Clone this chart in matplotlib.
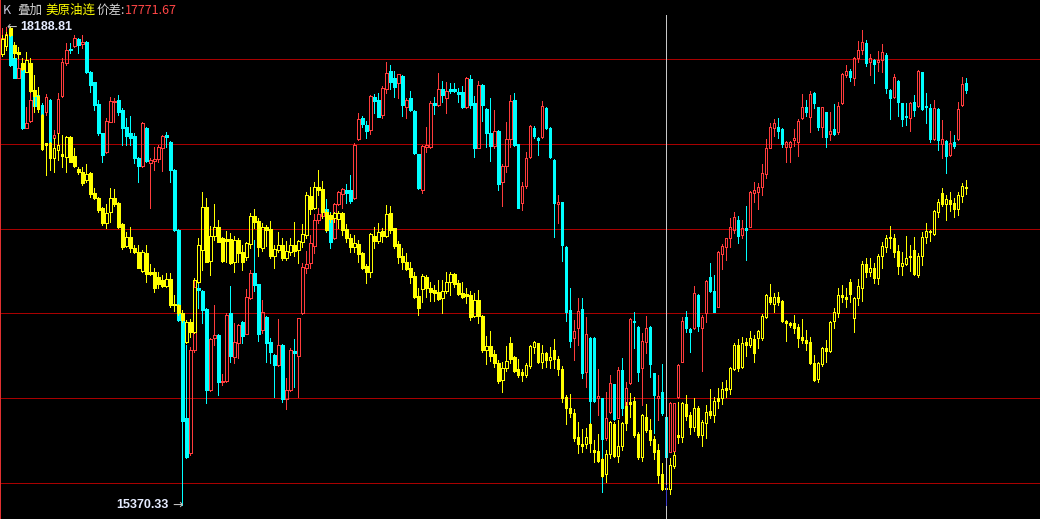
import numpy as np
import matplotlib
matplotlib.use('Agg')
import matplotlib.pyplot as plt

# main contract candles (open / high / low / close), one per bar
main_open = [18027, 18078, 18171, 18004, 17890, 17974, 17595, 17634, 17817, 17788,
             17728, 17685, 17758, 17532, 17561, 17783, 17974, 18057, 18078, 18117,
             18086, 18102, 17921, 17862, 17732, 17561, 17449, 17630, 17744, 17758,
             17699, 17601, 17561, 17548, 17418, 17371, 17595, 17385, 17398, 17410,
             17473, 17552, 17512, 17345, 16992, 16471, 15881, 15675, 16284, 16652,
             16632, 16526, 16048, 16357, 16373, 16097, 16103, 16501, 16245, 16328,
             16451, 16381, 16589, 16736, 16671, 16403, 16479, 16330, 16255, 16196,
             16314, 15995, 16048, 16279, 16251, 16501, 16766, 16795, 16899, 17051,
             17077, 17116, 17081, 16943, 17143, 17202, 17227, 17227, 17178, 17528,
             17654, 17610, 17581, 17778, 17758, 17670, 17823, 17929, 17886, 17856,
             17899, 17719, 17768, 17693, 17438, 17227, 17483, 17483, 17738, 17728,
             17823, 17768, 17823, 17821, 17807, 17803, 17717, 17882, 17738, 17477,
             17846, 17705, 17561, 17489, 17575, 17277, 17371, 17528, 17758, 17497,
             17153, 17253, 17424, 17595, 17536, 17542, 17713, 17595, 17404, 17147,
             17155, 16893, 16520, 16353, 16412, 16526, 16157, 16357, 16357, 16003,
             15999, 15764, 15917, 16081, 15885, 16166, 15960, 16087, 16455, 16420,
             16180, 16330, 16420, 16147, 16003, 16034, 15891, 15685, 15689, 16009,
             16215, 16481, 16408, 16412, 16609, 16416, 16501, 16714, 16632, 16540,
             16848, 16893, 16943, 16992, 17051, 16962, 17001, 17011, 17208, 17214,
             17247, 17320, 17477, 17591, 17601, 17587, 17483, 17483, 17524, 17512,
             17650, 17715, 17660, 17797, 17715, 17601, 17685, 17556, 17587, 17571,
             17738, 17905, 17929, 17890, 18008, 18055, 18094, 17984, 17994, 17984,
             17994, 18023, 17817, 17778, 17870, 17738, 17666, 17650, 17744, 17725,
             17921, 17725, 17713, 17528, 17705, 17499, 17516, 17434, 17512, 17528,
             17728, 17856]
main_high = [18180, 18188.81, 18175, 18008, 18063, 17980, 17719, 17807, 17905, 17797,
             17738, 17792, 17762, 17581, 17797, 18004, 18092, 18092, 18141, 18125,
             18141, 18106, 17929, 17866, 17758, 17565, 17654, 17778, 17768, 17788,
             17709, 17650, 17666, 17561, 17422, 17630, 17601, 17414, 17483, 17493,
             17552, 17571, 17516, 17350, 16996, 16475, 16314, 16304, 16697, 16687,
             16636, 16530, 16353, 16549, 16377, 16140, 16501, 16663, 16441, 16436,
             16455, 16644, 16756, 16933, 16675, 16579, 16483, 16357, 16259, 16467,
             16318, 16117, 16294, 16349, 16475, 16795, 16868, 16962, 17085, 17120,
             17139, 17174, 17100, 17149, 17222, 17241, 17261, 17316, 17503, 17679,
             17666, 17634, 17788, 17792, 17797, 17842, 17980, 17964, 17929, 17913,
             17903, 17768, 17811, 17697, 17442, 17493, 17601, 17752, 17778, 17915,
             17870, 17866, 17856, 17856, 17831, 17842, 17895, 17905, 17782, 17870,
             17850, 17709, 17768, 17699, 17579, 17379, 17630, 17788, 17797, 17501,
             17277, 17453, 17610, 17605, 17542, 17752, 17717, 17599, 17408, 17198,
             17159, 16897, 16648, 16461, 16589, 16589, 16481, 16361, 16361, 16172,
             16003, 16038, 16137, 16085, 16186, 16239, 16097, 16471, 16510, 16424,
             16383, 16487, 16424, 16151, 16137, 16204, 15895, 15980, 15974, 16200,
             16481, 16514, 16412, 16663, 16613, 16491, 16697, 16795, 16726, 16868,
             16907, 16947, 17062, 17100, 17077, 17051, 17133, 17222, 17273, 17267,
             17379, 17528, 17620, 17646, 17650, 17591, 17516, 17516, 17587, 17646,
             17793, 17758, 17811, 17807, 17719, 17719, 17689, 17689, 17732, 17744,
             17915, 17964, 17941, 18013, 18106, 18171, 18111, 18027, 17998, 18047,
             18086, 18033, 17821, 17909, 17874, 17742, 17738, 17744, 17788, 17935,
             17925, 17797, 17732, 17758, 17709, 17640, 17520, 17575, 17552, 17744,
             17895, 17886]
main_low = [18023, 18063, 17960, 17886, 17886, 17585, 17591, 17630, 17689, 17689,
            17571, 17670, 17505, 17522, 17552, 17778, 17964, 18033, 18072, 18033,
            18063, 17917, 17807, 17699, 17552, 17394, 17443, 17626, 17630, 17670,
            17493, 17493, 17493, 17385, 17277, 17365, 17394, 17123, 17345, 17394,
            17339, 17483, 17277, 16988, 16457, 15370.33, 15645, 15665, 16275, 16530,
            16441, 15970, 16044, 16314, 16019, 16080, 16097, 16215, 16206, 16239,
            16324, 16377, 16585, 16632, 16338, 16383, 16215, 16206, 16009, 16192,
            15980, 15936, 16042, 16068, 16009, 16495, 16736, 16766, 16854, 17031,
            17062, 16982, 16884, 16939, 17139, 17120, 17149, 17149, 17174, 17522,
            17601, 17536, 17556, 17679, 17656, 17654, 17797, 17823, 17778, 17768,
            17666, 17654, 17693, 17439, 17233, 17208, 17449, 17477, 17674, 17725,
            17744, 17679, 17797, 17803, 17744, 17713, 17713, 17709, 17424, 17473,
            17634, 17483, 17398, 17473, 17227, 17135, 17335, 17483, 17489, 17119,
            17109, 17241, 17418, 17536, 17434, 17536, 17587, 17414, 16952, 17031,
            16809, 16455, 16304, 16225, 16314, 16117, 16068, 15842, 15980, 15901,
            15445, 15754, 15911, 15873, 15881, 15901, 15901, 16081, 16294, 16101,
            15960, 16265, 16127, 15793, 15871, 15901, 15488, 15681, 15685, 16003,
            16211, 16389, 16275, 16408, 16397, 16160, 16451, 16624, 16507, 16538,
            16762, 16815, 16893, 16972, 16915, 16946, 16815, 17009, 17159, 17116,
            17198, 17296, 17473, 17548, 17536, 17483, 17394, 17394, 17489, 17430,
            17646, 17666, 17567, 17709, 17581, 17542, 17483, 17522, 17552, 17556,
            17732, 17895, 17870, 17846, 17984, 18027, 17960, 17905, 17856, 17929,
            17921, 17797, 17646, 17772, 17666, 17606, 17610, 17575, 17666, 17719,
            17701, 17620, 17512, 17522, 17463, 17414, 17326, 17430, 17477, 17522,
            17725, 17797]
main_close = [18121, 18145, 17964, 17890, 17945, 17591, 17620, 17758, 17725, 17705,
              17581, 17778, 17512, 17552, 17764, 17984, 18053, 18051, 18125, 18082,
              18102, 17921, 17846, 17728, 17561, 17434, 17634, 17752, 17752, 17689,
              17595, 17548, 17536, 17418, 17371, 17620, 17398, 17404, 17410, 17483,
              17548, 17542, 17345, 16992, 16461, 15866, 15655, 16284, 16658, 16640,
              16520, 16048, 16349, 16373, 16097, 16103, 16491, 16251, 16330, 16432,
              16369, 16597, 16736, 16667, 16377, 16507, 16324, 16275, 16196, 16314,
              15995, 16048, 16284, 16265, 16471, 16775, 16791, 16913, 17051, 17085,
              17135, 17077, 16923, 17143, 17214, 17233, 17208, 17163, 17493, 17646,
              17614, 17575, 17782, 17752, 17660, 17827, 17915, 17866, 17837, 17909,
              17728, 17758, 17699, 17443, 17237, 17487, 17493, 17738, 17728, 17823,
              17788, 17811, 17811, 17811, 17795, 17717, 17886, 17728, 17477, 17846,
              17728, 17561, 17489, 17575, 17261, 17371, 17526, 17752, 17493, 17123,
              17251, 17414, 17605, 17548, 17524, 17725, 17595, 17424, 17149, 17159,
              16903, 16510, 16338, 16397, 16514, 16147, 16377, 15984, 15984, 16013,
              15760, 15881, 16087, 15877, 16166, 15940, 16062, 16467, 16447, 16153,
              16338, 16412, 16200, 16019, 16015, 15911, 15655, 15970, 15970, 16196,
              16455, 16412, 16389, 16618, 16428, 16481, 16693, 16632, 16510, 16864,
              16897, 16943, 17007, 17071, 16958, 17001, 16994, 17214, 17227, 17247,
              17326, 17477, 17601, 17620, 17575, 17497, 17512, 17512, 17532, 17634,
              17715, 17685, 17792, 17738, 17601, 17715, 17542, 17575, 17556, 17723,
              17909, 17929, 17893, 18008, 18053, 18098, 17974, 18004, 17970, 17994,
              18039, 17831, 17772, 17893, 17744, 17646, 17660, 17738, 17699, 17929,
              17705, 17719, 17528, 17709, 17522, 17526, 17430, 17503, 17489, 17703,
              17850, 17817]

# overlay: 美原油连, already drawn on the main price scale
oil_open = [18027, 18078, 18180, 18082, 18043, 17974, 17925, 17978, 17817, 17783,
            17670, 17503, 17503, 17414, 17463, 17438, 17424, 17542, 17430, 17351,
            17335, 17286, 17328, 17208, 17178, 17120, 17031, 17095, 17182, 17149,
            17025, 16899, 16952, 16888, 16864, 16750, 16854, 16742, 16746, 16716,
            16697, 16663, 16703, 16557, 16549, 16501, 16330, 16447, 16393, 16687,
            16874, 17129, 16809, 16958, 17011, 16943, 16939, 16939, 16801, 16933,
            16860, 16834, 16907, 17077, 17045, 16888, 17011, 16997, 16840, 16874,
            16903, 16829, 16864, 16903, 16874, 16923, 16962, 17194, 17123, 17247,
            17233, 17100, 17081, 17062, 17058, 17090, 16997, 16946, 16893, 16907,
            16854, 16781, 16746, 16958, 16927, 16986, 16958, 17090, 17001, 16907,
            16840, 16801, 16770, 16722, 16605, 16644, 16716, 16648, 16638, 16628,
            16593, 16632, 16687, 16730, 16677, 16618, 16612, 16609, 16487, 16579,
            16487, 16284, 16310, 16259, 16206, 16107, 16180, 16324, 16245, 16172,
            16157, 16137, 16192, 16304, 16324, 16211, 16265, 16225, 16284, 16231,
            16172, 16009, 15940, 15911, 15774, 15729, 15729, 15846, 15695, 15689,
            15642, 15551, 15669, 15846, 15661, 15721, 15956, 15976, 15984, 15787,
            15655, 15891, 15813, 15760, 15695, 15551, 15473, 15465, 15602, 15783,
            15774, 15964, 15901, 15832, 15944, 15783, 15852, 15925, 15901, 15999,
            15999, 16062, 16054, 16172, 16314, 16186, 16330, 16314, 16349, 16353,
            16353, 16481, 16599, 16553, 16599, 16573, 16455, 16441, 16441, 16422,
            16363, 16343, 16330, 16206, 16113, 16200, 16298, 16279, 16455, 16501,
            16609, 16599, 16687, 16471, 16589, 16652, 16789, 16746, 16770, 16710,
            16840, 16893, 16950, 16943, 16868, 16781, 16789, 16840, 16874, 16726,
            16840, 16952, 16986, 16966, 17095, 17208, 17143, 17167, 17149, 17116,
            17194, 17245]
oil_high = [18141, 18161, 18190, 18102, 18072, 18004, 18043, 18004, 17905, 17837,
            17674, 17507, 17512, 17532, 17561, 17552, 17546, 17546, 17473, 17365,
            17365, 17379, 17332, 17241, 17188, 17129, 17143, 17237, 17233, 17159,
            17031, 16982, 17011, 16903, 16903, 16874, 16903, 16789, 16766, 16742,
            16726, 16736, 16736, 16609, 16557, 16520, 16461, 16467, 16707, 16946,
            17218, 17182, 17017, 17143, 17051, 16952, 16986, 16972, 16958, 16946,
            16903, 16923, 17090, 17116, 17062, 17031, 17021, 17045, 16903, 16982,
            16943, 16927, 16946, 17041, 16933, 17025, 17218, 17247, 17277, 17345,
            17281, 17109, 17090, 17100, 17104, 17100, 17025, 16966, 16962, 16933,
            16864, 16789, 16972, 17011, 17031, 17001, 17139, 17135, 17005, 16927,
            16884, 16854, 16805, 16742, 16648, 16730, 16726, 16683, 16667, 16697,
            16697, 16746, 16746, 16736, 16697, 16687, 16648, 16632, 16618, 16638,
            16491, 16369, 16397, 16284, 16225, 16215, 16310, 16363, 16249, 16231,
            16172, 16206, 16314, 16338, 16328, 16314, 16271, 16304, 16349, 16251,
            16192, 16019, 16023, 15936, 15862, 15819, 15823, 15852, 15754, 15787,
            15646, 15695, 15866, 15862, 15871, 15862, 15980, 16029, 16009, 15803,
            15905, 15964, 15877, 15779, 15729, 15616, 15488, 15649, 15685, 15980,
            15980, 16019, 15921, 15999, 15956, 15871, 15960, 16054, 16009, 16058,
            16093, 16107, 16186, 16324, 16349, 16363, 16357, 16397, 16373, 16403,
            16495, 16616, 16671, 16618, 16624, 16579, 16459, 16451, 16491, 16436,
            16467, 16403, 16363, 16255, 16211, 16304, 16343, 16455, 16534, 16652,
            16667, 16648, 16703, 16599, 16703, 16809, 16829, 16829, 16795, 16848,
            16919, 16962, 17017, 16966, 16903, 16860, 16958, 16903, 16952, 16854,
            16982, 17031, 16992, 17109, 17174, 17241, 17198, 17218, 17182, 17214,
            17267, 17286]
oil_low = [18019, 18053, 18137, 18004, 18004, 17935, 17921, 17807, 17689, 17689,
           17463, 17316, 17345, 17335, 17404, 17365, 17335, 17391, 17365, 17320,
           17257, 17277, 17188, 17174, 17095, 17021, 17005, 17041, 17135, 17005,
           16880, 16893, 16860, 16854, 16766, 16746, 16687, 16726, 16624, 16652,
           16658, 16658, 16540, 16514, 16491, 16451, 16324, 16363, 16383, 16677,
           16756, 16801, 16726, 16933, 16919, 16805, 16801, 16789, 16742, 16805,
           16756, 16815, 16888, 17005, 16840, 16868, 16899, 16829, 16770, 16860,
           16815, 16815, 16844, 16840, 16795, 16893, 16943, 17085, 17116, 17198,
           17062, 16986, 17041, 17041, 17001, 16962, 16923, 16860, 16864, 16805,
           16762, 16677, 16716, 16884, 16913, 16919, 16952, 16972, 16884, 16795,
           16762, 16756, 16677, 16589, 16491, 16569, 16599, 16573, 16573, 16579,
           16501, 16618, 16609, 16658, 16609, 16589, 16559, 16461, 16481, 16441,
           16275, 16200, 16219, 16186, 16087, 16038, 16160, 16206, 16153, 16127,
           16101, 16127, 16180, 16265, 16206, 16180, 16186, 16176, 16180, 16137,
           15980, 15846, 15891, 15748, 15675, 15685, 15705, 15685, 15626, 15626,
           15537, 15508, 15645, 15655, 15622, 15695, 15813, 15891, 15774, 15642,
           15630, 15799, 15725, 15642, 15498, 15459, 15453, 15433, 15590, 15735,
           15744, 15871, 15787, 15807, 15774, 15721, 15764, 15885, 15862, 15944,
           15964, 16009, 16023, 16166, 16160, 16180, 16251, 16304, 16211, 16294,
           16343, 16475, 16553, 16507, 16549, 16447, 16338, 16420, 16383, 16304,
           16324, 16284, 16200, 16103, 16093, 16192, 16211, 16271, 16416, 16481,
           16569, 16540, 16569, 16393, 16549, 16573, 16716, 16722, 16677, 16671,
           16770, 16860, 16888, 16834, 16730, 16726, 16785, 16750, 16726, 16716,
           16785, 16913, 16927, 16962, 17071, 17135, 17051, 17104, 17066, 17081,
           17159, 17202]
oil_close = [18117, 18141, 18141, 18033, 18029, 17941, 17994, 17811, 17783, 17705,
             17469, 17493, 17414, 17473, 17493, 17430, 17542, 17394, 17371, 17332,
             17267, 17320, 17204, 17178, 17109, 17031, 17090, 17182, 17143, 17011,
             16893, 16952, 16884, 16860, 16770, 16864, 16730, 16734, 16648, 16671,
             16663, 16703, 16549, 16549, 16501, 16461, 16451, 16389, 16697, 16903,
             17129, 16805, 16958, 17011, 16923, 16809, 16927, 16795, 16933, 16854,
             16801, 16913, 17077, 17041, 16893, 17009, 16992, 16840, 16880, 16903,
             16829, 16868, 16903, 16868, 16927, 16966, 17198, 17116, 17247, 17227,
             17100, 16992, 17058, 17090, 17090, 16992, 16943, 16893, 16913, 16848,
             16770, 16742, 16966, 16927, 16982, 16958, 17085, 16992, 16899, 16834,
             16801, 16762, 16716, 16599, 16534, 16722, 16648, 16628, 16618, 16585,
             16632, 16687, 16730, 16671, 16616, 16599, 16605, 16481, 16579, 16487,
             16284, 16310, 16251, 16206, 16101, 16180, 16219, 16231, 16160, 16137,
             16137, 16196, 16310, 16330, 16211, 16265, 16225, 16245, 16231, 16172,
             16003, 15940, 15911, 15768, 15729, 15721, 15774, 15735, 15681, 15630,
             15543, 15669, 15858, 15661, 15721, 15852, 15852, 15964, 15783, 15655,
             15901, 15813, 15754, 15685, 15547, 15465, 15465, 15606, 15665, 15774,
             15970, 15897, 15832, 15944, 15783, 15858, 15921, 15901, 15984, 15984,
             16054, 16048, 16180, 16314, 16180, 16324, 16314, 16353, 16265, 16397,
             16487, 16609, 16565, 16599, 16565, 16455, 16441, 16432, 16416, 16353,
             16343, 16324, 16206, 16107, 16206, 16298, 16279, 16447, 16507, 16609,
             16599, 16585, 16612, 16589, 16663, 16789, 16746, 16770, 16710, 16840,
             16899, 16943, 16943, 16864, 16781, 16795, 16829, 16832, 16730, 16840,
             16950, 16986, 16982, 17104, 17155, 17143, 17174, 17143, 17116, 17198,
             17251, 17241]

grid_levels = [18000, 17500, 17000, 16500, 16000, 15500]
cross_bar = 166
title_parts = [('K', '#c8c8dc'), ('叠加', '#d2d2d2'), ('美原油连', '#ffff00'),
               ('价差:', '#d2d2d2'), ('17771.67', '#ff4646')]
title_x = [3, 17, 45, 97, 125]

PX = 0.72  # one pixel in points at 100 dpi


def draw_candles(ax, opens, highs, lows, closes, up_color, down_color, z):
    o = np.array(opens, dtype=float)
    h = np.array(highs, dtype=float)
    l = np.array(lows, dtype=float)
    c = np.array(closes, dtype=float)
    x = np.arange(len(o))
    top = np.maximum(o, c)
    bot = np.minimum(o, c)
    up = c >= o
    cols = [up_color if u else down_color for u in up]
    # wicks stop at the body so hollow candles stay empty inside
    ax.vlines(x, top, h, colors=cols, linewidth=PX, antialiased=False, zorder=z)
    ax.vlines(x, l, bot, colors=cols, linewidth=PX, antialiased=False, zorder=z)
    ax.bar(x[up], (top - bot)[up], bottom=bot[up], width=0.6, facecolor='none',
           edgecolor=up_color, linewidth=PX, antialiased=False, zorder=z)
    ax.bar(x[~up], (top - bot)[~up], bottom=bot[~up], width=0.6, facecolor=down_color,
           edgecolor=down_color, linewidth=PX, antialiased=False, zorder=z)


fig = plt.figure(figsize=(10.4, 5.19), dpi=100, facecolor='black')
ax = fig.add_axes([0, 0, 1, 1])
ax.set_facecolor('black')
ax.set_xlim(-0.575, 259.425)
ax.set_ylim(15287.8, 18347.9)
for s in ax.spines.values():
    s.set_visible(False)
ax.set_xticks([])
ax.set_yticks([])

for lv in grid_levels:
    ax.axhline(lv, color='#a80000', linewidth=PX, linestyle=(0, (1, 1)),
               antialiased=False, zorder=1)
ax.axvline(-0.45, color='#e03030', linewidth=PX, antialiased=False, zorder=1)

draw_candles(ax, main_open, main_high, main_low, main_close, '#ff3c3c', '#00ffff', 2)
draw_candles(ax, oil_open, oil_high, oil_low, oil_close, '#ffff00', '#ffff00', 3)

# crosshair on the selected bar
ax.axvline(cross_bar, ymin=0, ymax=1 - 15 / 519, color='#c8c8c8', linewidth=PX,
           antialiased=False, zorder=4)
ax.vlines(cross_bar, min(main_low), main_low[cross_bar], colors='#3c3cc8',
          linewidth=PX, antialiased=False, zorder=5)

# highest / lowest price markers
i_hi = int(np.argmax(main_high))
i_lo = int(np.argmin(main_low))
hi = main_high[i_hi]
lo = main_low[i_lo]
ax.annotate('←', xy=(i_hi, hi), xytext=(0.5 * PX, 0), textcoords='offset points',
            ha='left', va='center', color='#c0c0c0', fontsize=9, family='DejaVu Sans')
ax.annotate(f'{hi:.2f}', xy=(i_hi, hi), xytext=(13.5 * PX, 0), textcoords='offset points',
            ha='left', va='center', color='#e6ecff', fontsize=9, fontweight='bold',
            family='Liberation Sans')
ax.annotate('→', xy=(i_lo, lo), xytext=(0, 0), textcoords='offset points',
            ha='right', va='center', color='#c0c0c0', fontsize=9, family='DejaVu Sans')
ax.annotate(f'{lo:.2f}', xy=(i_lo, lo), xytext=(-14 * PX, 0), textcoords='offset points',
            ha='right', va='center', color='#e6ecff', fontsize=9, fontweight='bold',
            family='Liberation Sans')

for (txt, col), xp in zip(title_parts, title_x):
    fig.text(xp / 1040, 1 - 10 / 519, txt, color=col, fontsize=9, va='center',
             ha='left', family=['Noto Sans CJK SC', 'DejaVu Sans'])

fig.savefig('out.png', dpi=100, facecolor='black')
